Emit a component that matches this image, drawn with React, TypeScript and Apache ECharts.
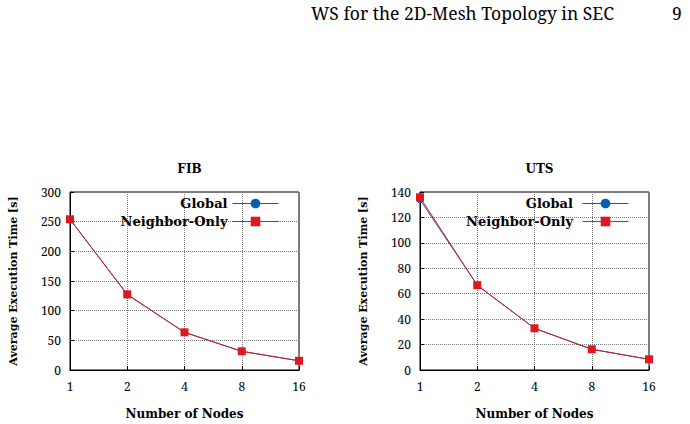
import React, { useEffect, useRef } from "react";
import * as echarts from "echarts";

const nodes = ["1", "2", "4", "8", "16"];
const fibGlobal = [254, 127, 63.5, 31.5, 15.5];
const fibNeighbor = [254, 127.5, 63.5, 31.5, 15.5];
const utsGlobal = [134, 66.7, 32.8, 16.3, 8.4];
const utsNeighbor = [135.8, 66.7, 32.8, 16.3, 8.4];
const titles = ["FIB", "UTS"];
const header = "WS for the 2D-Mesh Topology in SEC";
const pageNumber = "9";

const BLUE = "#0060ad";
const RED = "#dd181f";
const SERIF = "Noto Serif";
const SERIF_B = "DejaVu Serif";

export default function App() {
  const ref = useRef<HTMLDivElement>(null);
  useEffect(() => {
    if (!ref.current) return;
    const chart = echarts.init(ref.current, null, { renderer: "svg" });
    const grids = [
      { left: 70, right: 391, top: 192, bottom: 54 },
      { left: 420, right: 41, top: 192, bottom: 54 },
    ];
    const yMax = [300, 140];
    const yInt = [50, 20];
    const centers = [184.5, 534.5];
    const legendRight = [411, 61];
    const gridLine = { show: true, lineStyle: { type: "dotted", color: "#777", width: 1 } };
    const option: any = {
      animation: false,
      backgroundColor: "#fff",
      title: titles.map((t, i) => ({
        text: t,
        left: centers[i],
        top: 158,
        textAlign: "center",
        textStyle: { fontFamily: SERIF_B, fontWeight: "bold", fontSize: 12, color: "#000" },
      })),
      graphic: [
        {
          type: "text",
          left: 311,
          top: 4,
          style: { text: header, fontFamily: SERIF, fontSize: 17.5, fill: "#000" },
        },
        {
          type: "text",
          left: 672,
          top: 4,
          style: { text: pageNumber, fontFamily: SERIF, fontSize: 17.5, fill: "#000" },
        },
      ],
      legend: [0, 1].map((i) => ({
        orient: "vertical",
        align: "right",
        right: legendRight[i],
        top: 197,
        itemWidth: 46,
        itemHeight: 12,
        itemGap: 5,
        padding: 0,
        lineStyle: { width: 1 },
        data: i === 0 ? ["Global", "Neighbor-Only"] : ["Global ", "Neighbor-Only "],
        textStyle: {
          fontFamily: SERIF_B,
          fontWeight: "bold",
          fontSize: 13,
          color: "#000",
        },
      })),
      grid: grids.map((g) => ({ ...g, show: true, borderColor: "#000", borderWidth: 1, backgroundColor: "transparent" })),
      xAxis: [0, 1].map((i) => ({
        type: "category",
        gridIndex: i,
        data: nodes,
        boundaryGap: false,
        name: "Number of Nodes",
        nameLocation: "middle",
        nameGap: 38,
        nameTextStyle: { fontFamily: SERIF_B, fontWeight: "bold", fontSize: 12, color: "#000" },
        axisLine: { lineStyle: { color: "#000" } },
        axisTick: { inside: true, length: 4, lineStyle: { color: "#000" } },
        axisLabel: { fontFamily: SERIF, fontSize: 12, color: "#000", margin: 10 },
        splitLine: gridLine,
      })),
      yAxis: [0, 1].map((i) => ({
        type: "value",
        gridIndex: i,
        min: 0,
        max: yMax[i],
        interval: yInt[i],
        name: "Average Execution Time [s]",
        nameLocation: "middle",
        nameGap: 51,
        nameTextStyle: { fontFamily: SERIF_B, fontWeight: "bold", fontSize: 11, color: "#000" },
        axisLine: { show: true, lineStyle: { color: "#000" } },
        axisTick: { show: true, inside: true, length: 4, lineStyle: { color: "#000" } },
        axisLabel: { fontFamily: SERIF, fontSize: 12, color: "#000", margin: 9 },
        splitLine: gridLine,
      })),
      series: [
        { name: "Global", data: fibGlobal, xAxisIndex: 0, yAxisIndex: 0, color: BLUE, symbol: "circle", symbolSize: 7 },
        { name: "Neighbor-Only", data: fibNeighbor, xAxisIndex: 0, yAxisIndex: 0, color: RED, symbol: "rect", symbolSize: 8 },
        { name: "Global ", data: utsGlobal, xAxisIndex: 1, yAxisIndex: 1, color: BLUE, symbol: "circle", symbolSize: 7 },
        { name: "Neighbor-Only ", data: utsNeighbor, xAxisIndex: 1, yAxisIndex: 1, color: RED, symbol: "rect", symbolSize: 8 },
      ].map((s) => ({
        ...s,
        type: "line",
        showSymbol: true,
        lineStyle: { width: 1, color: s.color },
        itemStyle: { color: s.color },
        emphasis: { disabled: true },
      })),
    };
    chart.setOption(option);
    return () => chart.dispose();
  }, []);
  return (
    <div
      ref={ref}
      style={{ position: "fixed", left: 0, top: 0, width: 690, height: 424, background: "#fff" }}
    />
  );
}
